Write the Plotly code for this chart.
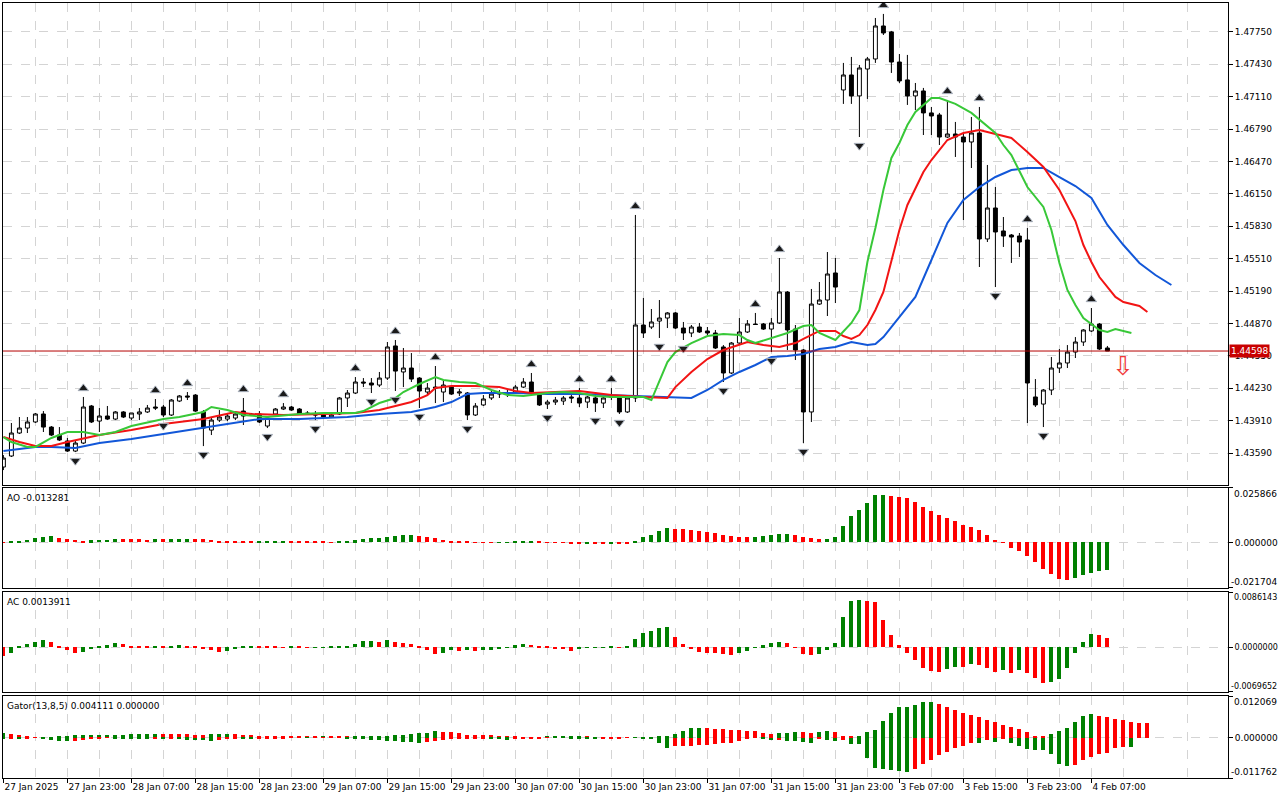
import plotly.graph_objects as go

# H1 bars, 27 Jan 15:00 -> 4 Feb 09:00 (bar index 0..138)
bar_open = [
    1.43452, 1.43561, 1.43788, 1.43837, 1.43897, 1.43976, 1.43847, 1.43768, 1.43709, 1.43610,
    1.43689, 1.44055, 1.43906, 1.43956, 1.43926, 1.43996, 1.43936, 1.43976, 1.43996, 1.44045,
    1.44045, 1.43966, 1.44104, 1.44154, 1.44163, 1.43996, 1.43817, 1.43916, 1.43926, 1.43936,
    1.44005, 1.43976, 1.43976, 1.43857, 1.43976, 1.44025, 1.44045, 1.44025, 1.43986, 1.43976,
    1.43966, 1.43946, 1.43976, 1.44134, 1.44183, 1.44292, 1.44282, 1.44262, 1.44331, 1.44648,
    1.44391, 1.44430, 1.44331, 1.44193, 1.44242, 1.44193, 1.44242, 1.44183, 1.44183, 1.43966,
    1.44065, 1.44134, 1.44173, 1.44183, 1.44193, 1.44242, 1.44292, 1.44163, 1.44074, 1.44094,
    1.44104, 1.44144, 1.44134, 1.44094, 1.44134, 1.44084, 1.44154, 1.44144, 1.43996, 1.44134,
    1.44855, 1.44835, 1.44894, 1.44924, 1.44974, 1.44825, 1.44776, 1.44835, 1.44796, 1.44776,
    1.44638, 1.44381, 1.44677, 1.44786, 1.44865, 1.44865, 1.44815, 1.44875, 1.45181, 1.44815,
    1.44608, 1.43996, 1.45062, 1.45102, 1.45369, 1.47177, 1.47325, 1.47118, 1.47384, 1.47483,
    1.47809, 1.47750, 1.47453, 1.47276, 1.47118, 1.47167, 1.46950, 1.46930, 1.46712, 1.46742,
    1.46712, 1.46663, 1.46752, 1.45705, 1.46011, 1.45784, 1.45744, 1.45734, 1.45695, 1.44144,
    1.44074, 1.44213, 1.44430, 1.44480, 1.44588, 1.44687, 1.44796, 1.44865, 1.44628,
]
bar_high = [
    1.43570, 1.43887, 1.43946, 1.43946, 1.43986, 1.44005, 1.43857, 1.43847, 1.43739, 1.43719,
    1.44144, 1.44065, 1.44035, 1.44055, 1.44005, 1.44005, 1.43986, 1.44035, 1.44065, 1.44124,
    1.44065, 1.44124, 1.44163, 1.44193, 1.44173, 1.44015, 1.43946, 1.44015, 1.43986, 1.43996,
    1.44134, 1.43986, 1.44005, 1.43946, 1.44035, 1.44084, 1.44055, 1.44035, 1.44005, 1.44005,
    1.43986, 1.43976, 1.44144, 1.44213, 1.44341, 1.44331, 1.44331, 1.44391, 1.44687, 1.44707,
    1.44628, 1.44578, 1.44341, 1.44282, 1.44450, 1.44312, 1.44262, 1.44223, 1.44193, 1.44084,
    1.44163, 1.44203, 1.44213, 1.44213, 1.44262, 1.44331, 1.44381, 1.44173, 1.44114, 1.44144,
    1.44154, 1.44163, 1.44232, 1.44154, 1.44183, 1.44154, 1.44232, 1.44154, 1.44154, 1.45942,
    1.45122, 1.45013, 1.45102, 1.44983, 1.44983, 1.44885, 1.44855, 1.44875, 1.44835, 1.44806,
    1.44657, 1.44687, 1.44924, 1.44904, 1.44974, 1.44875, 1.44924, 1.45517, 1.45191, 1.44855,
    1.44618, 1.45211, 1.45280, 1.45576, 1.45517, 1.47444, 1.47503, 1.47424, 1.47503, 1.47888,
    1.47928, 1.47760, 1.47532, 1.47523, 1.47246, 1.47197, 1.47009, 1.46950, 1.47078, 1.46861,
    1.46742, 1.46910, 1.47009, 1.46436, 1.46218, 1.45922, 1.45754, 1.45764, 1.45813, 1.44321,
    1.44223, 1.44539, 1.44618, 1.44657, 1.44736, 1.44815, 1.45023, 1.44875, 1.44648,
]
bar_low = [
    1.43422, 1.43551, 1.43778, 1.43788, 1.43887, 1.43798, 1.43758, 1.43709, 1.43600, 1.43600,
    1.43679, 1.43887, 1.43798, 1.43916, 1.43916, 1.43936, 1.43916, 1.43916, 1.43986, 1.44015,
    1.43946, 1.43956, 1.44094, 1.44114, 1.43996, 1.43659, 1.43768, 1.43897, 1.43906, 1.43916,
    1.43867, 1.43956, 1.43887, 1.43837, 1.43966, 1.44015, 1.44005, 1.43966, 1.43966, 1.43916,
    1.43936, 1.43936, 1.43966, 1.44045, 1.44173, 1.44242, 1.44183, 1.44242, 1.44312, 1.44203,
    1.44242, 1.44292, 1.44035, 1.44163, 1.44084, 1.44094, 1.44163, 1.44154, 1.43916, 1.43956,
    1.44055, 1.44114, 1.44134, 1.44144, 1.44183, 1.44232, 1.44173, 1.44055, 1.44025, 1.44065,
    1.44065, 1.44084, 1.44045, 1.44035, 1.43996, 1.44035, 1.44114, 1.43976, 1.43986, 1.44094,
    1.44727, 1.44815, 1.44727, 1.44825, 1.44815, 1.44707, 1.44736, 1.44776, 1.44756, 1.44618,
    1.44292, 1.44371, 1.44667, 1.44776, 1.44855, 1.44806, 1.44588, 1.44865, 1.44608, 1.44509,
    1.43689, 1.43897, 1.45053, 1.44944, 1.45072, 1.47039, 1.47039, 1.46712, 1.47088, 1.47444,
    1.47720, 1.47345, 1.47246, 1.47029, 1.46979, 1.46732, 1.46732, 1.46633, 1.46703, 1.46515,
    1.45892, 1.46406, 1.45428, 1.45675, 1.45230, 1.45626, 1.45468, 1.45527, 1.43887, 1.44045,
    1.43847, 1.44163, 1.44381, 1.44430, 1.44529, 1.44648, 1.44786, 1.44608, 1.44598,
]
bar_close = [
    1.43541, 1.43788, 1.43837, 1.43897, 1.43976, 1.43847, 1.43768, 1.43719, 1.43610, 1.43689,
    1.44045, 1.43897, 1.43956, 1.43926, 1.43996, 1.43946, 1.43986, 1.43996, 1.44035, 1.44035,
    1.43966, 1.44114, 1.44154, 1.44144, 1.44005, 1.43837, 1.43916, 1.43946, 1.43956, 1.43976,
    1.43956, 1.43966, 1.43897, 1.43936, 1.44025, 1.44045, 1.44015, 1.43976, 1.43976, 1.43966,
    1.43946, 1.43966, 1.44134, 1.44183, 1.44292, 1.44282, 1.44262, 1.44331, 1.44638, 1.44400,
    1.44430, 1.44321, 1.44203, 1.44232, 1.44232, 1.44262, 1.44173, 1.44193, 1.43966, 1.44055,
    1.44124, 1.44173, 1.44183, 1.44173, 1.44242, 1.44292, 1.44183, 1.44065, 1.44094, 1.44114,
    1.44134, 1.44134, 1.44084, 1.44144, 1.44084, 1.44134, 1.44144, 1.43996, 1.44134, 1.44855,
    1.44776, 1.44885, 1.44924, 1.44974, 1.44825, 1.44776, 1.44835, 1.44786, 1.44776, 1.44628,
    1.44381, 1.44677, 1.44786, 1.44865, 1.44860, 1.44815, 1.44875, 1.45181, 1.44806, 1.44608,
    1.43996, 1.45062, 1.45102, 1.45359, 1.45230, 1.47325, 1.47118, 1.47394, 1.47483, 1.47809,
    1.47740, 1.47453, 1.47266, 1.47118, 1.47167, 1.46950, 1.46920, 1.46712, 1.46742, 1.46712,
    1.46663, 1.46752, 1.45705, 1.46011, 1.45774, 1.45734, 1.45724, 1.45675, 1.44282, 1.44065,
    1.44213, 1.44430, 1.44480, 1.44588, 1.44687, 1.44806, 1.44865, 1.44618, 1.44598,
]

# Alligator lines (bar index -> price)
jaw_bars = [0, 4, 6, 9, 12, 16, 20, 25, 29, 32, 37, 40, 43, 47, 51, 54, 56, 58, 60, 64,
            68, 72, 76, 80, 84, 86, 88, 90, 92, 94, 96, 98, 100, 102, 104, 106, 108, 109, 110, 111,
            112, 113, 114, 116, 118, 120, 122, 124, 126, 128, 130, 132, 134, 136, 138, 140, 142, 144, 146]
jaw_price = [1.43610, 1.43650, 1.43650, 1.43640, 1.43689, 1.43729, 1.43778, 1.43837, 1.43887, 1.43926,
             1.43926, 1.43936, 1.43946, 1.43976, 1.43996, 1.44045, 1.44094, 1.44173, 1.44183, 1.44183,
             1.44173, 1.44173, 1.44163, 1.44154, 1.44144, 1.44134, 1.44213, 1.44312, 1.44391, 1.44460,
             1.44539, 1.44549, 1.44569, 1.44618, 1.44638, 1.44687, 1.44657, 1.44667, 1.44736, 1.44835,
             1.44924, 1.45033, 1.45132, 1.45497, 1.45863, 1.46090, 1.46218, 1.46317, 1.46386, 1.46406,
             1.46406, 1.46317, 1.46228, 1.46110, 1.45843, 1.45645, 1.45468, 1.45349, 1.45250]
teeth_bars = [0, 2, 4, 6, 8, 12, 16, 20, 25, 29, 31, 35, 40, 44, 47, 49, 51, 53, 54, 56,
              59, 62, 64, 66, 70, 72, 74, 76, 80, 83, 84, 86, 88, 90, 93, 95, 97, 99, 100, 102,
              104, 105, 106, 107, 108, 109, 110, 111, 112, 113, 115, 116, 118, 120, 122, 124, 126, 128, 130, 132,
              134, 135, 136, 137, 139, 140, 142, 143]
teeth_price = [1.43748, 1.43699, 1.43659, 1.43659, 1.43699, 1.43768, 1.43817, 1.43877, 1.43926, 1.43996,
               1.43976, 1.43966, 1.43976, 1.43986, 1.44015, 1.44055, 1.44094, 1.44163, 1.44232, 1.44252,
               1.44252, 1.44242, 1.44203, 1.44183, 1.44193, 1.44203, 1.44183, 1.44163, 1.44144, 1.44134,
               1.44242, 1.44391, 1.44519, 1.44608, 1.44687, 1.44657, 1.44638, 1.44677, 1.44717, 1.44796,
               1.44796, 1.44746, 1.44717, 1.44756, 1.44855, 1.45003, 1.45181, 1.45497, 1.45794, 1.46041,
               1.46367, 1.46485, 1.46683, 1.46752, 1.46782, 1.46742, 1.46703, 1.46564, 1.46416, 1.46189,
               1.45882, 1.45645, 1.45477, 1.45329, 1.45132, 1.45082, 1.45043, 1.44983]
lips_bars = [0, 1, 3, 4, 6, 8, 10, 12, 14, 16, 20, 22, 25, 26, 28, 30, 33, 37, 40, 44,
             45, 47, 49, 50, 52, 54, 55, 57, 59, 61, 63, 65, 68, 70, 72, 74, 76, 80, 81, 82,
             83, 84, 86, 88, 90, 92, 93, 94, 96, 98, 100, 101, 102, 104, 106, 107, 108, 109, 110, 111,
             112, 113, 114, 116, 117, 119, 121, 123, 124, 125, 126, 128, 130, 131, 132, 133, 134, 135, 137, 138,
             139, 141]
lips_price = [1.43748, 1.43699, 1.43650, 1.43650, 1.43739, 1.43798, 1.43798, 1.43768, 1.43798, 1.43857,
              1.43926, 1.43946, 1.43996, 1.44045, 1.44015, 1.43966, 1.43946, 1.43976, 1.43986, 1.43986,
              1.44005, 1.44084, 1.44134, 1.44193, 1.44272, 1.44341, 1.44312, 1.44292, 1.44282, 1.44213,
              1.44163, 1.44154, 1.44183, 1.44193, 1.44183, 1.44154, 1.44144, 1.44144, 1.44114, 1.44302,
              1.44489, 1.44588, 1.44677, 1.44746, 1.44766, 1.44756, 1.44707, 1.44677, 1.44727, 1.44776,
              1.44845, 1.44855, 1.44776, 1.44707, 1.44875, 1.45003, 1.45477, 1.45813, 1.46189, 1.46505,
              1.46653, 1.46831, 1.46959, 1.47098, 1.47098, 1.47039, 1.46950, 1.46821, 1.46752, 1.46633,
              1.46534, 1.46218, 1.46021, 1.45794, 1.45468, 1.45201, 1.45053, 1.44924, 1.44806, 1.44786,
              1.44815, 1.44776]

fractal_up_bars = [10, 19, 23, 30, 35, 44, 49, 54, 66, 72, 76, 79, 94, 97, 110, 118, 122, 128, 136]
fractal_down_bars = [9, 20, 25, 33, 39, 46, 49, 52, 58, 68, 74, 77, 82, 85, 90, 96, 100, 107, 124, 130]

last_price = 1.44598
sell_signal_bar = 140
sell_signal_price = 1.44455

price_ticks = [1.43590, 1.43910, 1.44230, 1.44550, 1.44870, 1.45190, 1.45510,
               1.45830, 1.46150, 1.46470, 1.46790, 1.47110, 1.47430, 1.47750]
time_labels = ["27 Jan 2025", "27 Jan 23:00", "28 Jan 07:00", "28 Jan 15:00", "28 Jan 23:00",
               "29 Jan 07:00", "29 Jan 15:00", "29 Jan 23:00", "30 Jan 07:00", "30 Jan 15:00",
               "30 Jan 23:00", "31 Jan 07:00", "31 Jan 15:00", "31 Jan 23:00", "3 Feb 07:00",
               "3 Feb 15:00", "3 Feb 23:00", "4 Feb 07:00"]

ao_values = [
    -0.0002, 0.0003, 0.0008, 0.0013, 0.0019, 0.0027, 0.0028, 0.0022, 0.0017, 0.0013,
    0.0008, 0.0009, 0.0012, 0.0013, 0.0017, 0.0016, 0.0015, 0.0014, 0.0012, 0.0015,
    0.0014, 0.0016, 0.0017, 0.0018, 0.0017, 0.0016, 0.0012, 0.0008, 0.0006, 0.0005,
    0.00045, 0.0004, 0.00042, 0.00044, 0.00046, 0.00048, 0.0004, 0.00035, 0.0003, 0.00025,
    0.0002, 0.00015, 0.0002, 0.0004, 0.0009, 0.0014, 0.0019, 0.0023, 0.0027, 0.0032,
    0.0033, 0.0036, 0.0032, 0.0027, 0.0022, 0.0013, 0.0008, 0.0003, 0.0002, 0.0001,
    -0.0001, -0.0002, -0.0001, 0.0001, 0.0002, 0.00025, 0.0003, 0.0002, 0.0001, 0.00005,
    -0.0002, -0.0004, -0.0006, -0.0005, -0.0007, -0.0008, -0.0004, -0.0005, -0.0006, 0.0006,
    0.0025, 0.0035, 0.0054, 0.0068, 0.0063, 0.0062, 0.0059, 0.0054, 0.0049, 0.0044,
    0.0035, 0.0030, 0.0025, 0.0024, 0.0025, 0.0030, 0.0035, 0.0040, 0.0041, 0.0035,
    0.0025, 0.0021, 0.0016, 0.0017, 0.0025, 0.0078, 0.0125, 0.0154, 0.0187, 0.0225,
    0.0226, 0.0220, 0.0216, 0.0211, 0.0192, 0.0168, 0.0149, 0.0130, 0.0116, 0.0102,
    0.0082, 0.0073, 0.0059, 0.0035, 0.0011, -0.0003, -0.0027, -0.0040, -0.0065, -0.0094,
    -0.0125, -0.0151, -0.0174, -0.0179, -0.0170, -0.0155, -0.0146, -0.0136, -0.013281,
]
ac_values = [
    -0.0014, -0.0009, 0.0001, 0.0005, 0.0009, 0.0012, 0.0008, 0.0002, -0.0005, -0.0009,
    -0.0008, -0.0002, 0.0001, 0.0003, 0.0006, 0.0005, 0.0002, 0.0001, 0.00005, 0.0001,
    0.00005, 0.0002, 0.0003, 0.0002, 0.0001, -0.0003, -0.0005, -0.0008, -0.0006, -0.0003,
    0.00005, 0.0002, 0.00015, 0.0001, 0.00005, -0.00005, 0.0001, 0.00005, -0.0001, -0.00005,
    0.00002, 0.0001, 0.00015, 0.00018, 0.00047, 0.00093, 0.00095, 0.0009, 0.0011, 0.00078,
    0.00062, 0.0005, 0.0001, -0.0005, -0.001, -0.0009, -0.0005, -0.0006, -0.0005, -0.0006,
    -0.0005, -0.0004, -0.0002, 0.00003, 0.0003, 0.0005, 0.0004, 0.0001, 0.00005, -0.0002,
    -0.0003, -0.0006, -0.0002, -0.0001, -0.00005, -0.00003, 0.00005, 0.00002, 0.0001, 0.0013,
    0.0022, 0.0026, 0.0030, 0.0031, 0.0016, 0.0005, -0.0003, -0.0008, -0.00082, -0.00085,
    -0.0011, -0.0012, -0.0009, -0.0006, -0.0001, 0.0003, 0.0006, 0.0008, 0.0006, -0.0001,
    -0.0011, -0.00125, -0.0011, -0.0005, 0.0006, 0.0047, 0.0072, 0.0073, 0.0072, 0.0070,
    0.0042, 0.0019, 0.0003, -0.0009, -0.0020, -0.0033, -0.0037, -0.0039, -0.0034, -0.0030,
    -0.0031, -0.0026, -0.0028, -0.0033, -0.0039, -0.0036, -0.0040, -0.00355, -0.0040, -0.0048,
    -0.0056, -0.0054, -0.0050, -0.0033, -0.0009, 0.0009, 0.0020, 0.00195, 0.0013911,
]
gator_upper = [
    0.00139, 0.00105, 0.00070, 0.00038, 0.00015, 0.00009, 0.00015, 0.00035, 0.00058, 0.00067,
    0.00073, 0.00076, 0.00078, 0.00084, 0.00087, 0.00088, 0.00090, 0.00093, 0.00096, 0.00099,
    0.00098, 0.00096, 0.00093, 0.00090, 0.00087, 0.00086, 0.00093, 0.00102, 0.00108, 0.00107,
    0.00087, 0.00070, 0.00052, 0.00046, 0.00044, 0.00041, 0.00040, 0.00039, 0.00038, 0.00037,
    0.00041, 0.00038, 0.00032, 0.00029, 0.00030, 0.00032, 0.00038, 0.00044, 0.00058, 0.00073,
    0.00087, 0.00102, 0.00122, 0.00142, 0.00183, 0.00174, 0.00157, 0.00122, 0.00087, 0.00076,
    0.00070, 0.00064, 0.00058, 0.00044, 0.00023, 0.00012, 0.00006, 0.00012, 0.00017, 0.00020,
    0.00023, 0.00026, 0.00029, 0.00023, 0.00015, 0.00009, 0.00003, 0.00006, 0.00009, 0.00010,
    0.00012, 0.00015, 0.00017, 0.00044, 0.00116, 0.00195, 0.00282, 0.00291, 0.00282, 0.00262,
    0.00247, 0.00232, 0.00212, 0.00195, 0.00189, 0.00125, 0.00096, 0.00125, 0.00145, 0.00166,
    0.00154, 0.00145, 0.00174, 0.00195, 0.00166, 0.00038, 0.00029, 0.00058, 0.00166, 0.00232,
    0.00485, 0.00727, 0.00892, 0.00901, 0.00939, 0.01037, 0.01046, 0.00968, 0.00892, 0.00793,
    0.00718, 0.00648, 0.00602, 0.00503, 0.00456, 0.00357, 0.00311, 0.00262, 0.00166, 0.00058,
    0.00049, 0.00116, 0.00183, 0.00291, 0.00456, 0.00631, 0.00689, 0.00631, 0.00602, 0.00552,
    0.00503, 0.00456, 0.00436, 0.004111,
]
gator_lower = [
    0.00029, 0.00028, 0.00041, 0.00023, 0.00009, 0.00029, 0.00064, 0.00087, 0.00099, 0.00087,
    0.00070, 0.00046, 0.00017, 0.00012, 0.00017, 0.00029, 0.00041, 0.00046, 0.00052, 0.00049,
    0.00050, 0.00048, 0.00052, 0.00058, 0.00064, 0.00070, 0.00093, 0.00058, 0.00023, 0.00015,
    0.00020, 0.00023, 0.00020, 0.00017, 0.00015, 0.00014, 0.00012, 0.00009, 0.00012, 0.00011,
    0.00009, 0.00008, 0.00006, 0.00015, 0.00029, 0.00046, 0.00064, 0.00076, 0.00093, 0.00110,
    0.00128, 0.00139, 0.00151, 0.00134, 0.00108, 0.00076, 0.00052, 0.00041, 0.00032, 0.00029,
    0.00023, 0.00035, 0.00046, 0.00058, 0.00052, 0.00041, 0.00029, 0.00017, 0.00009, 0.00010,
    0.00012, 0.00017, 0.00023, 0.00029, 0.00030, 0.00026, 0.00023, 0.00017, 0.00012, 0.00013,
    0.00015, 0.00023, 0.00145, 0.00291, 0.00253, 0.00250, 0.00241, 0.00224, 0.00203, 0.00174,
    0.00154, 0.00145, 0.00096, 0.00029, 0.00009, 0.00029, 0.00078, 0.00076, 0.00087, 0.00108,
    0.00125, 0.00145, 0.00049, 0.00078, 0.00096, 0.00058, 0.00174, 0.00195, 0.00581, 0.00872,
    0.00901, 0.00930, 0.00959, 0.00997, 0.00901, 0.00756, 0.00660, 0.00514, 0.00407, 0.00299,
    0.00232, 0.00154, 0.00166, 0.00058, 0.00125, 0.00029, 0.00145, 0.00253, 0.00320, 0.00349,
    0.00357, 0.00485, 0.00756, 0.00822, 0.00785, 0.00660, 0.00561, 0.00485, 0.00445, 0.00299,
    0.00262, 0.00282,
]

ao_range = [-0.021704, 0.025866]
ac_range = [-0.0069652, 0.0086143]
gator_range = [-0.011762, 0.012069]
ao_title = "AO -0.013281"
ac_title = "AC 0.0013911"
gator_title = "Gator(13,8,5) 0.004111 0.000000"

GREEN = "#008000"
RED = "#ff0000"
GRID = "#d4d4d4"
FONT = "DejaVu Sans"
FSIZE = 9


def trend_colors(values, first):
    # green when the bar grows against the previous one, red otherwise
    cols = [first]
    for prev, cur in zip(values[:-1], values[1:]):
        cols.append(GREEN if cur > prev else RED)
    return cols


bars = list(range(len(bar_close)))
label_bars = [i * 8 for i in range(len(time_labels))]
x_range = [-0.05, 153.075]

fig = go.Figure()

fig.add_trace(go.Candlestick(
    x=bars, open=bar_open, high=bar_high, low=bar_low, close=bar_close,
    increasing=dict(line=dict(color="black", width=1), fillcolor="white"),
    decreasing=dict(line=dict(color="black", width=1), fillcolor="black"),
    whiskerwidth=0, showlegend=False, hoverinfo="skip",
    xaxis="x", yaxis="y",
))

for xs, ys, col in [(jaw_bars, jaw_price, "#1257d8"),
                    (teeth_bars, teeth_price, "#f21414"),
                    (lips_bars, lips_price, "#38c838")]:
    fig.add_trace(go.Scatter(x=xs, y=ys, mode="lines", line=dict(color=col, width=2),
                             showlegend=False, hoverinfo="skip", xaxis="x", yaxis="y"))

# Bill Williams fractals
arrow_gap = 0.00085
fig.add_trace(go.Scatter(
    x=fractal_up_bars, y=[bar_high[i] + arrow_gap for i in fractal_up_bars],
    mode="markers", showlegend=False, hoverinfo="skip", xaxis="x", yaxis="y",
    marker=dict(symbol="triangle-up", size=9, color="#1a1a1a",
                line=dict(color="#a8b0bc", width=1)),
))
fig.add_trace(go.Scatter(
    x=fractal_down_bars, y=[bar_low[i] - arrow_gap for i in fractal_down_bars],
    mode="markers", showlegend=False, hoverinfo="skip", xaxis="x", yaxis="y",
    marker=dict(symbol="triangle-down", size=9, color="#1a1a1a",
                line=dict(color="#a8b0bc", width=1)),
))

# AO / AC / Gator histograms
fig.add_trace(go.Bar(x=bars, y=ao_values, marker_color=trend_colors(ao_values, RED),
                     marker_line_width=0, width=0.5, showlegend=False, hoverinfo="skip",
                     xaxis="x2", yaxis="y2"))
fig.add_trace(go.Bar(x=bars, y=ac_values, marker_color=trend_colors(ac_values, RED),
                     marker_line_width=0, width=0.5, showlegend=False, hoverinfo="skip",
                     xaxis="x3", yaxis="y3"))
fig.add_trace(go.Bar(x=list(range(len(gator_upper))), y=gator_upper,
                     marker_color=trend_colors(gator_upper, GREEN),
                     marker_line_width=0, width=0.5, showlegend=False, hoverinfo="skip",
                     xaxis="x4", yaxis="y4"))
fig.add_trace(go.Bar(x=list(range(len(gator_lower))), y=[-v for v in gator_lower],
                     marker_color=trend_colors(gator_lower, GREEN),
                     marker_line_width=0, width=0.5, showlegend=False, hoverinfo="skip",
                     xaxis="x4", yaxis="y4"))

domains = {"y": [0.378, 1.0], "y2": [0.2452, 0.3742], "y3": [0.111, 0.24], "y4": [0.0, 0.1058]}


def x_axis(anchor, labels):
    ax = dict(
        domain=[0, 1], anchor=anchor, range=x_range, zeroline=False, automargin=False,
        showline=True, linecolor="black", linewidth=1, mirror=True,
        tickmode="array", tickvals=label_bars,
        showgrid=True, gridcolor=GRID, griddash="dash", gridwidth=1,
        minor=dict(tickmode="linear", tick0=4, dtick=8, showgrid=True,
                   gridcolor=GRID, griddash="dash", ticks=""),
    )
    if labels:
        ax.update(ticktext=time_labels, ticks="outside", ticklen=4, tickcolor="black",
                  ticklabelposition="outside right", tickangle=0,
                  tickfont=dict(family=FONT, size=FSIZE, color="black"))
    else:
        ax.update(showticklabels=False, ticks="", matches="x4")
    return ax


def y_axis(dom, rng, vals, texts, anchor, size=FSIZE):
    return dict(
        domain=dom, range=rng, anchor=anchor, side="right", zeroline=False, automargin=False,
        showline=True, linecolor="black", linewidth=1, mirror=True,
        tickmode="array", tickvals=vals, ticktext=texts,
        ticks="outside", ticklen=4, tickcolor="black",
        tickfont=dict(family=FONT, size=size, color="black"),
        showgrid=True, gridcolor=GRID, griddash="dash", gridwidth=1,
    )


fig.update_layout(
    width=1280, height=800,
    margin=dict(l=3, r=52, t=3, b=22),
    paper_bgcolor="white", plot_bgcolor="white",
    barmode="relative", bargap=0,
    showlegend=False,
    font=dict(family=FONT, size=FSIZE, color="black"),
    xaxis=x_axis("y", False),
    xaxis2=x_axis("y2", False),
    xaxis3=x_axis("y3", False),
    xaxis4=x_axis("y4", True),
    yaxis=y_axis(domains["y"], [1.43274, 1.48036], price_ticks,
                 ["%.5f" % p for p in price_ticks], "x"),
    yaxis2=y_axis(domains["y2"], ao_range, [ao_range[0], 0, ao_range[1]],
                  ["", "0.000000", ""], "x2"),
    yaxis3=y_axis(domains["y3"], ac_range, [ac_range[0], 0, ac_range[1]],
                  ["", "0.0000000", ""], "x3", size=8),
    yaxis4=y_axis(domains["y4"], gator_range, [gator_range[0], 0, gator_range[1]],
                  ["", "0.000000", ""], "x4"),
)
fig.update_layout(xaxis_rangeslider_visible=False)

# current price line
fig.add_shape(type="line", xref="x domain", yref="y", x0=0, x1=1, y0=last_price, y1=last_price,
              line=dict(color="#b40000", width=1))

notes = []
# subwindow captions and min/max scale labels
for yref, title, rng, fmt, lsize in [("y2", ao_title, ao_range, "%.6f", FSIZE),
                                     ("y3", ac_title, ac_range, "%.7f", 8),
                                     ("y4", gator_title, gator_range, "%.6f", FSIZE)]:
    notes.append(dict(xref="paper", yref=yref + " domain", x=0, y=1, xanchor="left", yanchor="top",
                      xshift=2, yshift=-3, text=title, showarrow=False,
                      font=dict(family=FONT, size=FSIZE, color="black")))
    notes.append(dict(xref="paper", yref=yref + " domain", x=1, y=1, xanchor="left", yanchor="top",
                      xshift=4, yshift=1, text=fmt % rng[1], showarrow=False,
                      font=dict(family=FONT, size=lsize, color="black")))
    notes.append(dict(xref="paper", yref=yref + " domain", x=1, y=0, xanchor="left", yanchor="bottom",
                      xshift=1, yshift=-1, text=fmt % rng[0], showarrow=False,
                      font=dict(family=FONT, size=lsize, color="black")))

notes.append(dict(xref="paper", yref="y", x=1, y=last_price, xanchor="left", yanchor="middle",
                  xshift=1, text="%.5f" % last_price, showarrow=False, bgcolor="#c80000",
                  borderpad=1, font=dict(family=FONT, size=FSIZE, color="white")))
notes.append(dict(xref="x", yref="y", x=sell_signal_bar, y=sell_signal_price, text="\u21e9",
                  showarrow=False, font=dict(family="DejaVu Sans", size=26, color="#f03a3a")))
fig.update_layout(annotations=notes)

fig.write_html("out.html", config={"displayModeBar": False},
               post_script="document.body.style.margin='0';")
